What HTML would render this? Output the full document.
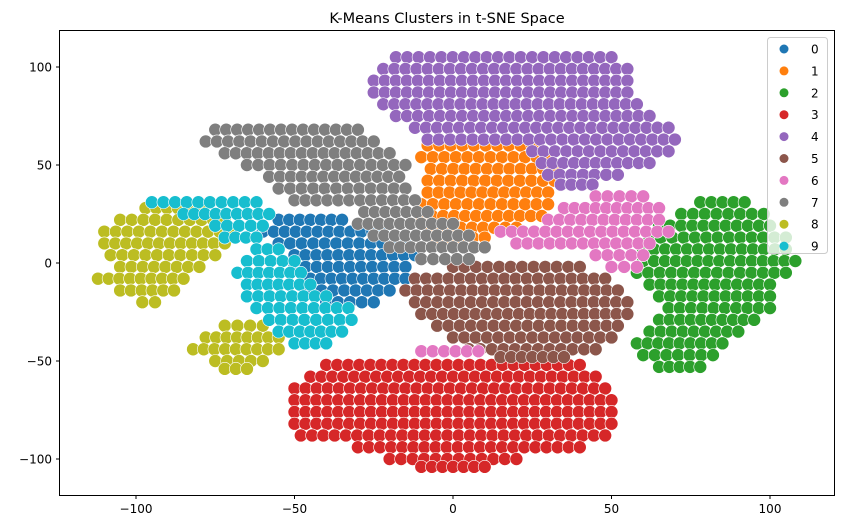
<!DOCTYPE html>
<html><head><meta charset="utf-8">
<style>
html,body{margin:0;padding:0;background:#fff;}
svg{display:block;font-family:"DejaVu Sans","Liberation Sans",sans-serif;}
</style></head>
<body>
<svg id="chart" width="842" height="528" viewBox="0 0 842 528" xmlns="http://www.w3.org/2000/svg">
<text x="447" y="23" text-anchor="middle" font-size="14.5" fill="#000">K-Means Clusters in t-SNE Space</text>
<g id="points"></g>
<rect x="59.5" y="30.5" width="775" height="465" fill="none" stroke="#000" stroke-width="1"/>
<g id="axes"></g>
<g id="legend"></g>
</svg>
<script>
const clusterLabels = ["0","1","2","3","4","5","6","7","8","9"];
const clusterColors = ["#1f77b4","#ff7f0e","#2ca02c","#d62728","#9467bd","#8c564b","#e377c2","#7f7f7f","#bcbd22","#17becf"];
const xTicks = [-100,-50,0,50,100];
const yTicks = [-100,-50,0,50,100];
// cluster extents: [y, xStart, xEnd]
const spans0 = [[22,-55,-35],[16,-60,-22],[10,-55,-15],[4,-50,-12],[-2,-50,-15],[-8,-45,-15],[-14,-45,-20],[-20,-40,-25]];
const spans1 = [[60,-8,25],[54,-10,30],[48,-7,32],[42,-8,32],[36,-8,30],[30,-10,30],[24,-10,28],[18,-8,20],[13,-5,10]];
const spans2 = [[31,78,92],[25,72,98],[19,65,100],[13,62,105],[7,60,105],[1,60,108],[-5,58,105],[-11,62,100],[-17,65,100],[-23,68,100],[-29,65,95],[-35,62,90],[-41,58,85],[-47,60,82],[-53,65,78]];
const spans3 = [[-52,-40,40],[-58,-45,45],[-64,-50,48],[-70,-50,50],[-76,-50,50],[-82,-50,50],[-88,-48,48],[-94,-30,40],[-100,-20,20],[-104,-10,10]];
const spans4 = [[105,-18,50],[99,-22,55],[93,-25,55],[87,-25,55],[81,-22,58],[75,-18,62],[69,-12,68],[63,-8,70],[57,25,68],[51,28,62],[45,30,52],[40,34,44]];
const spans5 = [[-2,0,40],[-8,-12,48],[-14,-15,52],[-20,-12,55],[-26,-10,55],[-32,-5,52],[-38,0,50],[-44,5,45],[-48,15,35]];
const spans6 = [[34,45,60],[28,35,65],[22,30,65],[16,15,68],[10,20,62],[4,45,60],[-2,50,58],[-45,-10,8]];
const spans7 = [[68,-75,-30],[62,-78,-25],[56,-72,-20],[50,-65,-15],[44,-58,-17],[38,-55,-15],[32,-50,-12],[26,-28,-8],[20,-30,0],[14,-25,5],[8,-20,10],[2,-10,5]];
const spans8 = [[28,-97,-80],[22,-105,-72],[16,-110,-70],[10,-110,-72],[4,-108,-75],[-2,-105,-80],[-8,-112,-85],[-14,-105,-88],[-20,-98,-94],[-32,-72,-60],[-38,-78,-55],[-44,-82,-55],[-50,-75,-60],[-54,-72,-65]];
const spans9 = [[31,-95,-62],[25,-85,-58],[19,-75,-60],[13,-72,-62],[7,-62,-55],[1,-65,-50],[-5,-68,-48],[-11,-65,-45],[-17,-65,-40],[-23,-62,-33],[-29,-58,-32],[-35,-55,-35],[-41,-50,-40]];
const allSpans = [spans0,spans1,spans2,spans3,spans4,spans5,spans6,spans7,spans8,spans9];

const NS="http://www.w3.org/2000/svg";
function sx(v){return 453+v*3.17;}
function sy(v){return 263-v*1.96;}
const pg=document.getElementById('points');
allSpans.forEach((spans,ci)=>{
  spans.forEach(s=>{
    const y=s[0], x0=s[1], x1=s[2];
    const n=Math.max(1,Math.round((x1-x0)/3.5));
    for(let i=0;i<=n;i++){
      const x=x0+(x1-x0)*i/n;
      const c=document.createElementNS(NS,'circle');
      
      
      c.setAttribute('cx',sx(x));c.setAttribute('cy',sy(y));c.setAttribute('r',6.5);
      c.setAttribute('fill',clusterColors[ci]);c.setAttribute('stroke','#fff');c.setAttribute('stroke-width','0.6');
      pg.appendChild(c);
    }
  });
});
const ax=document.getElementById('axes');
xTicks.forEach(t=>{
  const l=document.createElementNS(NS,'line');
  
  
  l.setAttribute('x1',sx(t));l.setAttribute('x2',sx(t));l.setAttribute('y1',495.5);l.setAttribute('y2',499);l.setAttribute('stroke','#000');
  ax.appendChild(l);
  const tx=document.createElementNS(NS,'text');
  
  
  tx.setAttribute('x',sx(t));tx.setAttribute('y',513);tx.setAttribute('text-anchor','middle');tx.setAttribute('font-size','12');
  tx.textContent=(t<0?'\u2212'+(-t):t);
  ax.appendChild(tx);
});
yTicks.forEach(t=>{
  const l=document.createElementNS(NS,'line');
  
  
  l.setAttribute('x1',56);l.setAttribute('x2',59.5);l.setAttribute('y1',sy(t));l.setAttribute('y2',sy(t));l.setAttribute('stroke','#000');
  ax.appendChild(l);
  const tx=document.createElementNS(NS,'text');
  
  
  tx.setAttribute('x',52);tx.setAttribute('y',sy(t)+4.5);tx.setAttribute('text-anchor','end');tx.setAttribute('font-size','12');
  tx.textContent=(t<0?'\u2212'+(-t):t);
  ax.appendChild(tx);
});
const lg=document.getElementById('legend');
const box=document.createElementNS(NS,'rect');


box.setAttribute('x',767.5);box.setAttribute('y',37.5);box.setAttribute('width',60);box.setAttribute('height',216);box.setAttribute('rx',3);
box.setAttribute('fill','#fff');box.setAttribute('fill-opacity','0.8');box.setAttribute('stroke','#ccc');
lg.appendChild(box);
clusterLabels.forEach((lab,i)=>{
  const y=49+i*21.9;
  const c=document.createElementNS(NS,'circle');
  
  
  c.setAttribute('cx',784);c.setAttribute('cy',y);c.setAttribute('r',4.5);c.setAttribute('fill',clusterColors[i]);
  lg.appendChild(c);
  const t=document.createElementNS(NS,'text');
  
  
  t.setAttribute('x',811);t.setAttribute('y',y+4.5);t.setAttribute('font-size','12');
  t.textContent=lab;
  lg.appendChild(t);
});
</script>
</body></html>
